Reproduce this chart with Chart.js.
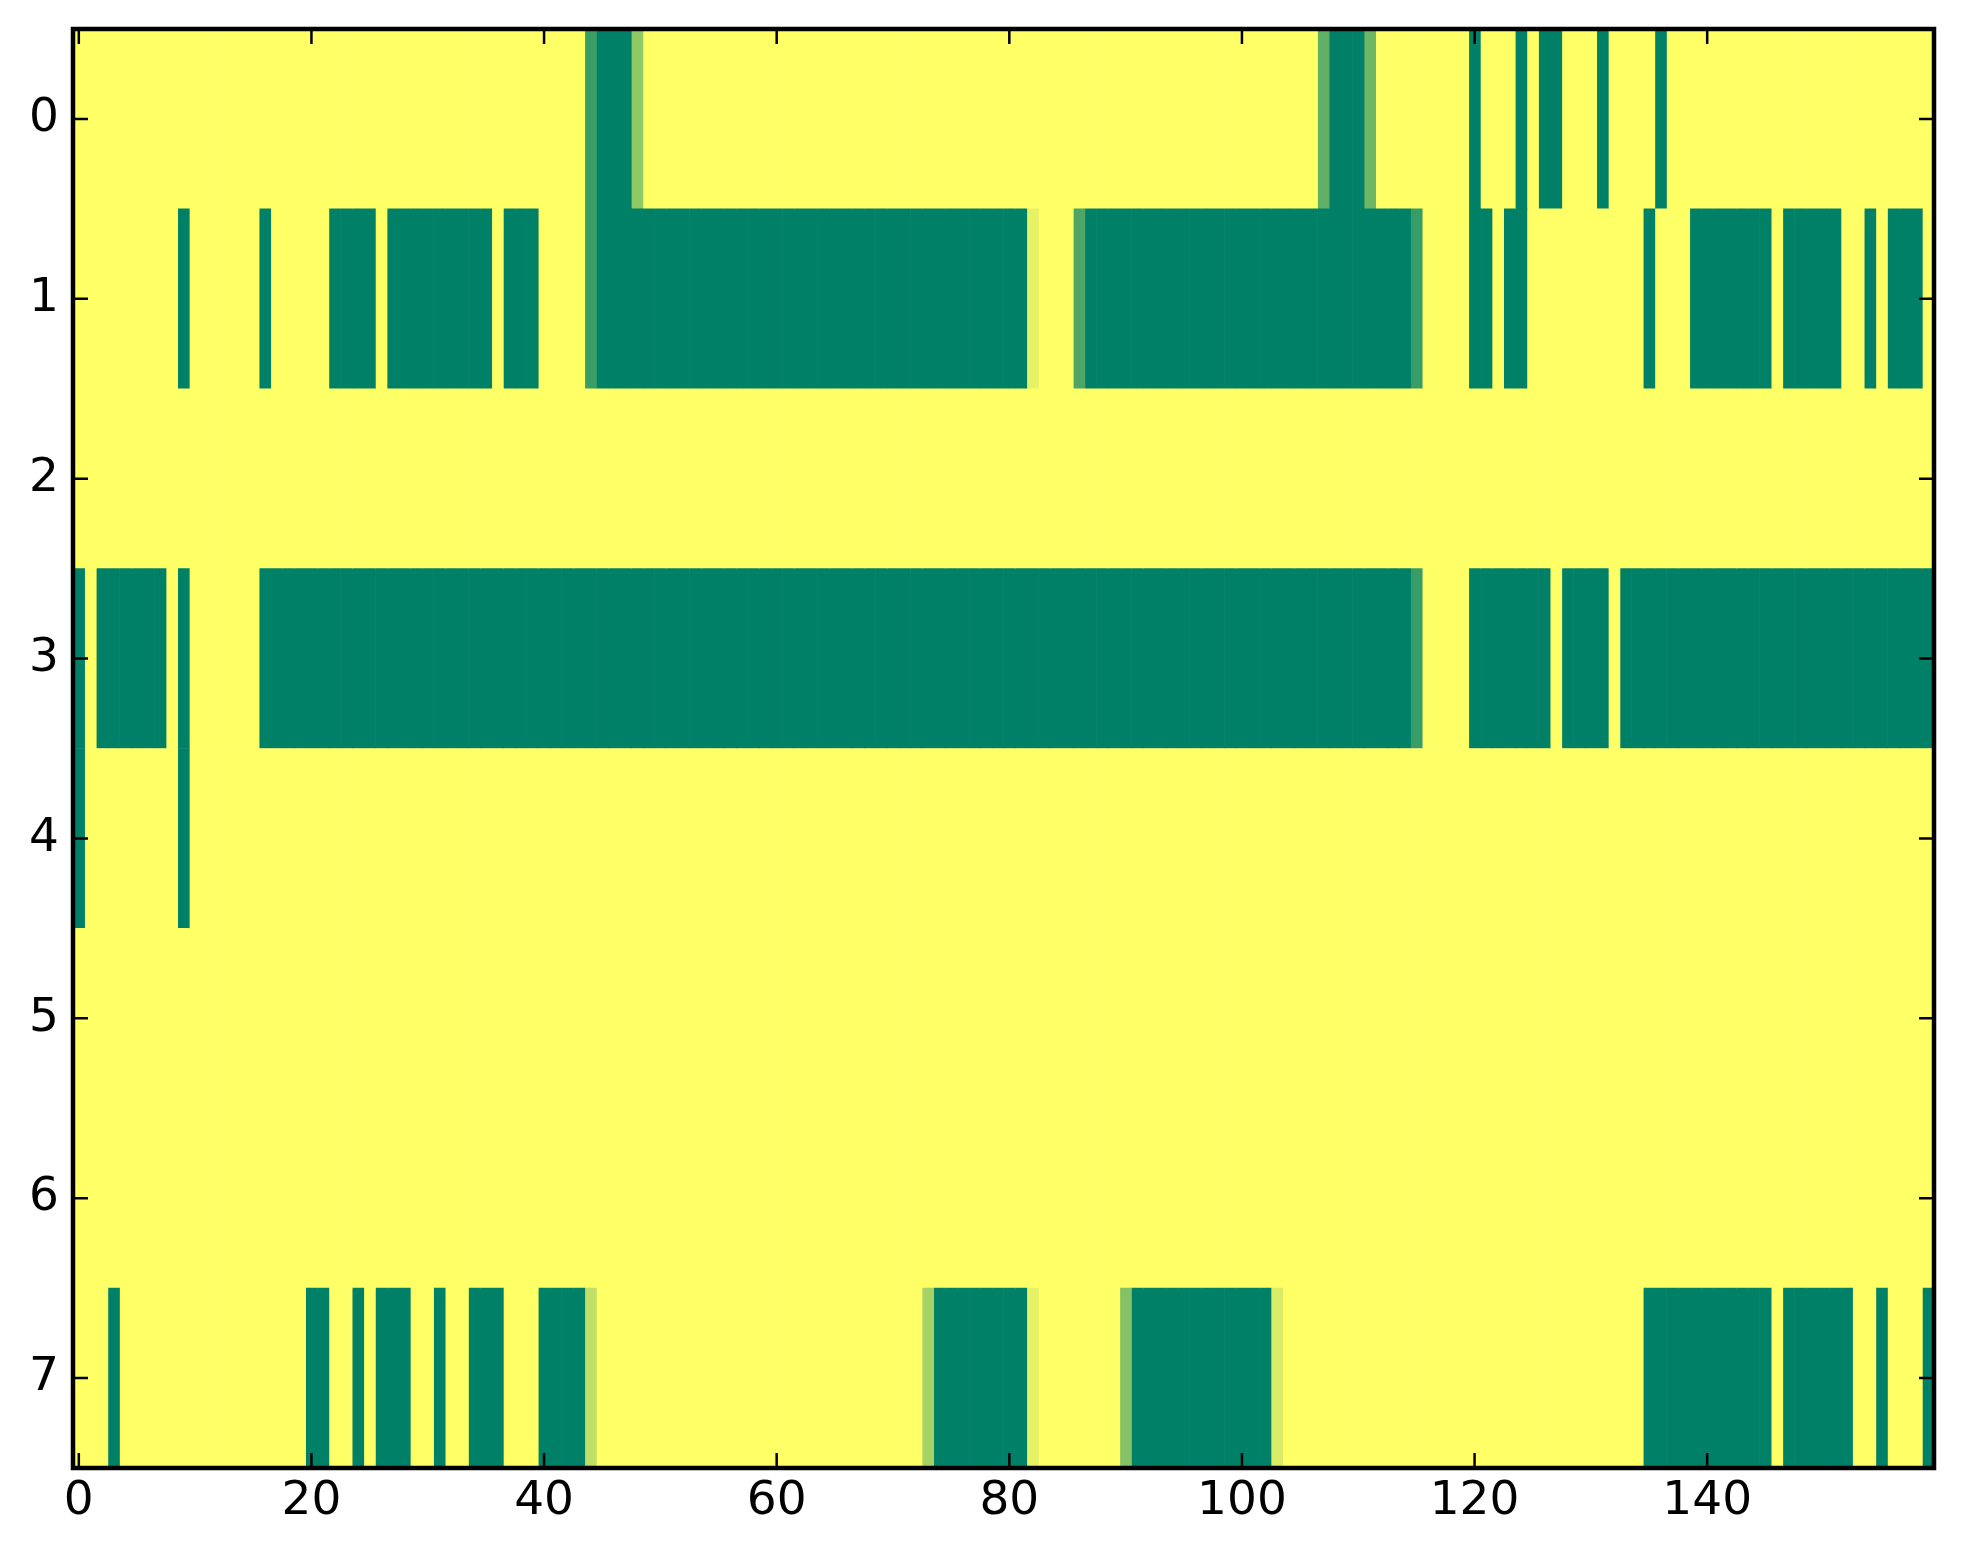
<!DOCTYPE html>
<html>
<head>
<meta charset="utf-8">
<script src="https://cdn.jsdelivr.net/npm/chart.js@4.4.0/dist/chart.umd.min.js"></script>
<style>
  html, body { margin: 0; padding: 0; background: #ffffff; }
  canvas { display: block; }
</style>
</head>
<body>
<canvas id="chart" width="1963" height="1564"></canvas>
<script>
// row labels (top to bottom) and x tick labels
const rowLabels = ["0", "1", "2", "3", "4", "5", "6", "7"];
const xTicks = [0, 20, 40, 60, 80, 100, 120, 140];

// cell values per row, 160 columns each (0 = green, 1 = yellow)
const row0 = [
  1,1,1,1,1,1,1,1,1,1,1,1,1,1,1,1,1,1,1,1,
  1,1,1,1,1,1,1,1,1,1,1,1,1,1,1,1,1,1,1,1,
  1,1,1,1,0.23,0,0,0,0.57,1,1,1,1,1,1,1,1,1,1,1,
  1,1,1,1,1,1,1,1,1,1,1,1,1,1,1,1,1,1,1,1,
  1,1,1,1,1,1,1,1,1,1,1,1,1,1,1,1,1,1,1,1,
  1,1,1,1,1,1,1,0.38,0,0,0,0.43,1,1,1,1,1,1,1,1,
  0,1,1,1,0,1,0,0,1,1,1,0,1,1,1,1,0,1,1,1,
  1,1,1,1,1,1,1,1,1,1,1,1,1,1,1,1,1,1,1,1
];
const row1 = [
  1,1,1,1,1,1,1,1,1,0,1,1,1,1,1,1,0,1,1,1,
  1,1,0,0,0,0,1,0,0,0,0,0,0,0,0,0,1,0,0,0,
  1,1,1,1,0.23,0,0,0,0,0,0,0,0,0,0,0,0,0,0,0,
  0,0,0,0,0,0,0,0,0,0,0,0,0,0,0,0,0,0,0,0,
  0,0,0.9,1,1,1,0.3,0,0,0,0,0,0,0,0,0,0,0,0,0,
  0,0,0,0,0,0,0,0,0,0,0,0,0,0,0,0.22,1,1,1,1,
  0,0,1,0,0,1,1,1,1,1,1,1,1,1,1,0,1,1,1,0,
  0,0,0,0,0,0,1,0,0,0,0,0,1,1,0,1,0,0,0,1
];
const row2 = [
  1,1,1,1,1,1,1,1,1,1,1,1,1,1,1,1,1,1,1,1,
  1,1,1,1,1,1,1,1,1,1,1,1,1,1,1,1,1,1,1,1,
  1,1,1,1,1,1,1,1,1,1,1,1,1,1,1,1,1,1,1,1,
  1,1,1,1,1,1,1,1,1,1,1,1,1,1,1,1,1,1,1,1,
  1,1,1,1,1,1,1,1,1,1,1,1,1,1,1,1,1,1,1,1,
  1,1,1,1,1,1,1,1,1,1,1,1,1,1,1,1,1,1,1,1,
  1,1,1,1,1,1,1,1,1,1,1,1,1,1,1,1,1,1,1,1,
  1,1,1,1,1,1,1,1,1,1,1,1,1,1,1,1,1,1,1,1
];
const row3 = [
  0,1,0,0,0,0,0,0,1,0,1,1,1,1,1,1,0,0,0,0,
  0,0,0,0,0,0,0,0,0,0,0,0,0,0,0,0,0,0,0,0,
  0,0,0,0,0,0,0,0,0,0,0,0,0,0,0,0,0,0,0,0,
  0,0,0,0,0,0,0,0,0,0,0,0,0,0,0,0,0,0,0,0,
  0,0,0,0,0,0,0,0,0,0,0,0,0,0,0,0,0,0,0,0,
  0,0,0,0,0,0,0,0,0,0,0,0,0,0,0,0.22,1,1,1,1,
  0,0,0,0,0,0,0,1,0,0,0,0,1,0,0,0,0,0,0,0,
  0,0,0,0,0,0,0,0,0,0,0,0,0,0,0,0,0,0,0,0
];
const row4 = [
  0,1,1,1,1,1,1,1,1,0,1,1,1,1,1,1,1,1,1,1,
  1,1,1,1,1,1,1,1,1,1,1,1,1,1,1,1,1,1,1,1,
  1,1,1,1,1,1,1,1,1,1,1,1,1,1,1,1,1,1,1,1,
  1,1,1,1,1,1,1,1,1,1,1,1,1,1,1,1,1,1,1,1,
  1,1,1,1,1,1,1,1,1,1,1,1,1,1,1,1,1,1,1,1,
  1,1,1,1,1,1,1,1,1,1,1,1,1,1,1,1,1,1,1,1,
  1,1,1,1,1,1,1,1,1,1,1,1,1,1,1,1,1,1,1,1,
  1,1,1,1,1,1,1,1,1,1,1,1,1,1,1,1,1,1,1,1
];
const row5 = [
  1,1,1,1,1,1,1,1,1,1,1,1,1,1,1,1,1,1,1,1,
  1,1,1,1,1,1,1,1,1,1,1,1,1,1,1,1,1,1,1,1,
  1,1,1,1,1,1,1,1,1,1,1,1,1,1,1,1,1,1,1,1,
  1,1,1,1,1,1,1,1,1,1,1,1,1,1,1,1,1,1,1,1,
  1,1,1,1,1,1,1,1,1,1,1,1,1,1,1,1,1,1,1,1,
  1,1,1,1,1,1,1,1,1,1,1,1,1,1,1,1,1,1,1,1,
  1,1,1,1,1,1,1,1,1,1,1,1,1,1,1,1,1,1,1,1,
  1,1,1,1,1,1,1,1,1,1,1,1,1,1,1,1,1,1,1,1
];
const row6 = [
  1,1,1,1,1,1,1,1,1,1,1,1,1,1,1,1,1,1,1,1,
  1,1,1,1,1,1,1,1,1,1,1,1,1,1,1,1,1,1,1,1,
  1,1,1,1,1,1,1,1,1,1,1,1,1,1,1,1,1,1,1,1,
  1,1,1,1,1,1,1,1,1,1,1,1,1,1,1,1,1,1,1,1,
  1,1,1,1,1,1,1,1,1,1,1,1,1,1,1,1,1,1,1,1,
  1,1,1,1,1,1,1,1,1,1,1,1,1,1,1,1,1,1,1,1,
  1,1,1,1,1,1,1,1,1,1,1,1,1,1,1,1,1,1,1,1,
  1,1,1,1,1,1,1,1,1,1,1,1,1,1,1,1,1,1,1,1
];
const row7 = [
  1,1,1,0,1,1,1,1,1,1,1,1,1,1,1,1,1,1,1,1,
  0,0,1,1,0,1,0,0,0,1,1,0,1,1,0,0,0,1,1,1,
  0,0,0,0,0.75,1,1,1,1,1,1,1,1,1,1,1,1,1,1,1,
  1,1,1,1,1,1,1,1,1,1,1,1,1,0.65,0,0,0,0,0,0,
  0,0,0.9,1,1,1,1,1,1,1,0.52,0,0,0,0,0,0,0,0,0,
  0,0,0,0.85,1,1,1,1,1,1,1,1,1,1,1,1,1,1,1,1,
  1,1,1,1,1,1,1,1,1,1,1,1,1,1,1,0,0,0,0,0,
  0,0,0,0,0,0,1,0,0,0,0,0,0,1,1,0,1,1,1,0
];

const rows = [row0, row1, row2, row3, row4, row5, row6, row7];
const nCols = row0.length;

// matplotlib "summer" colormap
function summer(v) {
  const r = Math.round(255 * v);
  const g = Math.round(255 * (0.5 + 0.5 * v));
  return "rgb(" + r + "," + g + ",102)";
}

// one floating-bar dataset per column, one bar per row
const datasets = [];
for (let k = 0; k < nCols; k++) {
  datasets.push({
    data: rows.map(() => [k - 0.5, k + 0.5]),
    backgroundColor: rows.map((r) => summer(r[k])),
    borderWidth: 0,
    grouped: false,
    categoryPercentage: 1,
    barPercentage: 1,
  });
}

// frame and inward ticks on all four sides
const framePlugin = {
  id: "frame",
  afterDraw(chart) {
    const ctx = chart.ctx;
    const a = chart.chartArea;
    const xs = chart.scales.x;
    const ys = chart.scales.y;
    const len = 15;
    ctx.save();
    ctx.strokeStyle = "#000";
    ctx.lineWidth = 2.5;
    ctx.beginPath();
    xs.ticks.forEach((t) => {
      const px = xs.getPixelForValue(t.value);
      ctx.moveTo(px, a.bottom);
      ctx.lineTo(px, a.bottom - len);
      ctx.moveTo(px, a.top);
      ctx.lineTo(px, a.top + len);
    });
    rowLabels.forEach((lab, i) => {
      const py = ys.getPixelForTick(i);
      ctx.moveTo(a.left, py);
      ctx.lineTo(a.left + len, py);
      ctx.moveTo(a.right, py);
      ctx.lineTo(a.right - len, py);
    });
    ctx.stroke();
    ctx.lineWidth = 4.5;
    ctx.strokeRect(a.left, a.top, a.right - a.left, a.bottom - a.top);
    ctx.restore();
  },
};

const xFont = { family: "DejaVu Sans", size: 47 };
const yFont = { family: "DejaVu Sans", size: 47, lineHeight: 0.9 };

const ctx = document.getElementById("chart").getContext("2d");
const myChart = new Chart(ctx, {
  type: "bar",
  data: { labels: rowLabels, datasets: datasets },
  plugins: [framePlugin],
  options: {
    indexAxis: "y",
    responsive: false,
    devicePixelRatio: 1,
    animation: false,
    layout: { padding: { left: 0, top: 29, right: 29, bottom: 0 } },
    plugins: { legend: { display: false }, tooltip: { enabled: false } },
    scales: {
      x: {
        type: "linear",
        position: "bottom",
        min: -0.5,
        max: nCols - 0.5,
        grid: { display: false },
        border: { display: false },
        afterBuildTicks: (scale) => {
          scale.ticks = xTicks.map((v) => ({ value: v }));
        },
        afterFit: (scale) => { scale.height = 96; },
        ticks: { font: xFont, color: "#000", padding: -2, maxRotation: 0 },
      },
      y: {
        type: "category",
        grid: { display: false },
        border: { display: false },
        afterFit: (scale) => { scale.width = 73; },
        ticks: { font: yFont, color: "#000", padding: 6 },
      },
    },
  },
});
</script>
</body>
</html>
